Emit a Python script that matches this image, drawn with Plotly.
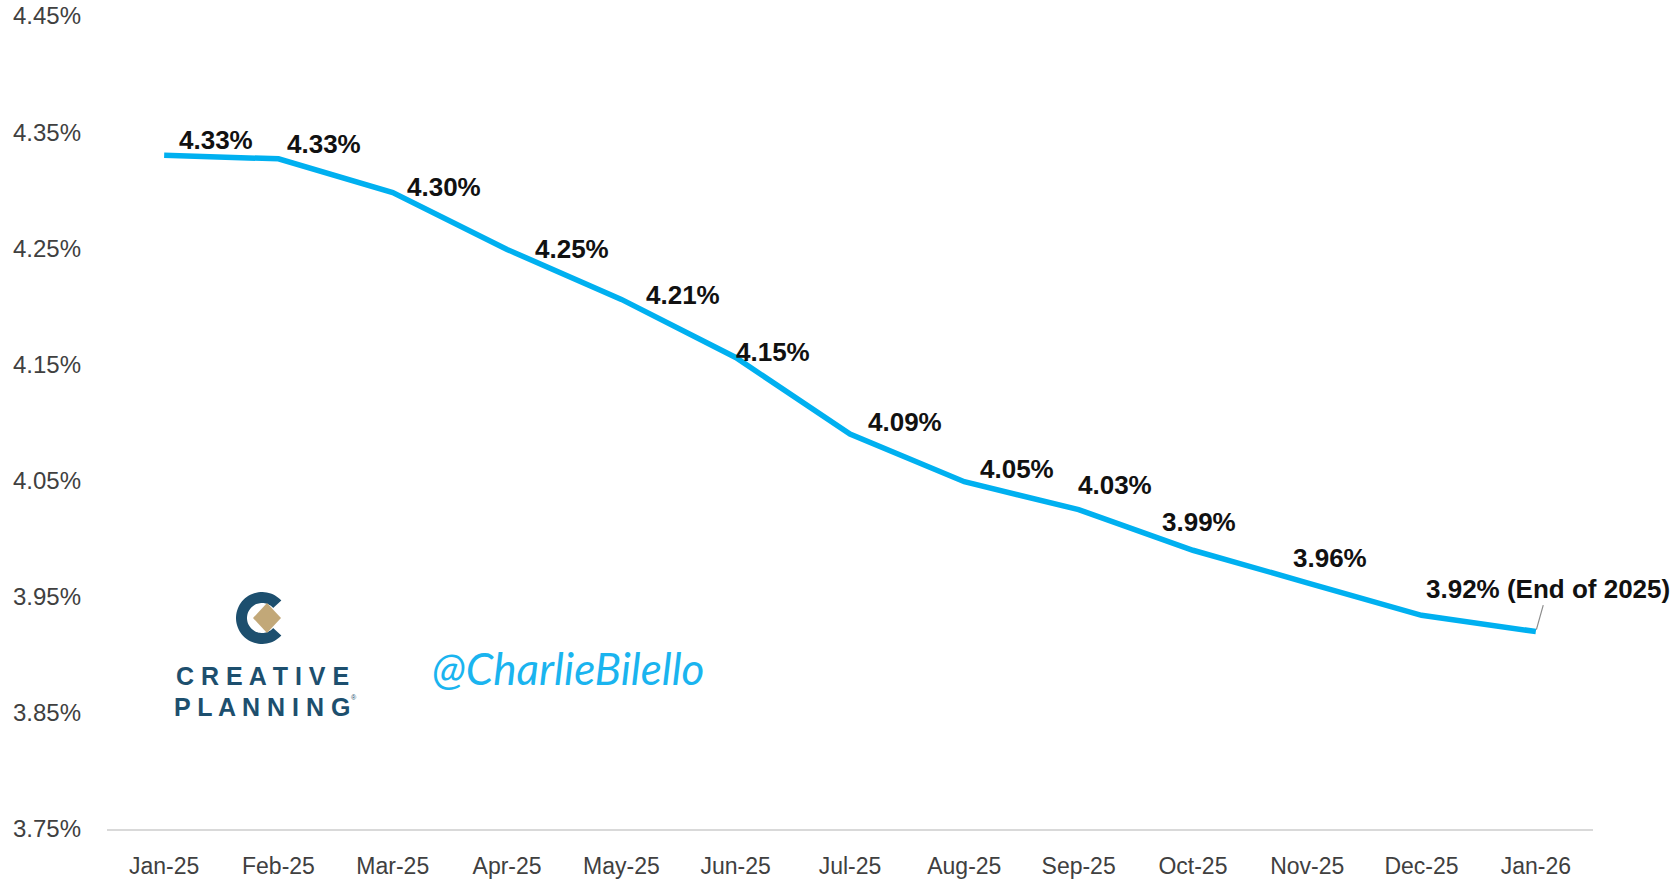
import numpy as np
import plotly.graph_objects as go

# ---------------- data ----------------
months = ["Jan-25", "Feb-25", "Mar-25", "Apr-25", "May-25", "Jun-25", "Jul-25",
          "Aug-25", "Sep-25", "Oct-25", "Nov-25", "Dec-25", "Jan-26"]
rates = [4.330, 4.327, 4.298, 4.249, 4.206, 4.156, 4.090,
         4.049, 4.025, 3.990, 3.962, 3.934, 3.920]
labels = ["4.33%", "4.33%", "4.30%", "4.25%", "4.21%", "4.15%", "4.09%",
          "4.05%", "4.03%", "3.99%", "3.96%", "", "3.92% (End of 2025)"]
y_ticks = [3.75, 3.85, 3.95, 4.05, 4.15, 4.25, 4.35, 4.45]

# label placement (pixel offsets of the label's left edge / centre from its point)
label_dx = [13, 7, 12, 26, 23, -2, 16, 14, -3, -33, -16, 0, 0]
label_dy = [15, 15, 6, 0, 4, 5, 12, 13, 25, 28, 25, 0, 0]

W, H = 1673, 880
L, T = 107, 16
R = W - 1593
B = H - 829
FONT = "Liberation Sans, Arial"


def pxx(x):
    # page pixel -> paper coordinate
    return (x - L) / (W - L - R)


def pxy(y):
    return (H - B - y) / (H - T - B)


fig = go.Figure()
fig.add_trace(go.Scatter(
    x=months, y=rates, mode="lines",
    line=dict(color="#00b0f0", width=5.5),
    hoverinfo="x+y", showlegend=False,
))

annotations = []
for i, (m, v, t) in enumerate(zip(months, rates, labels)):
    if not t:
        continue
    if i == len(months) - 1:
        annotations.append(dict(
            x=m, y=v, xref="x", yref="y", text="<b>%s</b>" % t, showarrow=True,
            arrowhead=0, arrowwidth=1.2, arrowcolor="#8c8c8c",
            ax=12, ay=-43, standoff=2,
            font=dict(family=FONT, size=26, color="#111111"),
        ))
    else:
        annotations.append(dict(
            x=m, y=v, xref="x", yref="y", text="<b>%s</b>" % t, showarrow=False,
            xanchor="left", yanchor="middle",
            xshift=label_dx[i], yshift=label_dy[i],
            font=dict(family=FONT, size=26, color="#111111"),
        ))

# watermark and logo texts
annotations.append(dict(
    x=pxx(568), y=pxy(668), xref="paper", yref="paper", text="<i>@CharlieBilello</i>",
    showarrow=False, xanchor="center", yanchor="middle",
    font=dict(family="Lato", size=44, color="#1ab4ef"),
))
logo_col = "#1d4f6e"
annotations.append(dict(
    x=pxx(262), y=pxy(676), xref="paper", yref="paper", text="<b>C R E A T I V E</b>",
    showarrow=False, xanchor="center", yanchor="middle",
    font=dict(family=FONT, size=25, color=logo_col),
))
annotations.append(dict(
    x=pxx(262), y=pxy(707), xref="paper", yref="paper", text="<b>P L A N N I N G</b>",
    showarrow=False, xanchor="center", yanchor="middle",
    font=dict(family=FONT, size=25, color=logo_col),
))
annotations.append(dict(
    x=pxx(354), y=pxy(697), xref="paper", yref="paper", text="®",
    showarrow=False, xanchor="center", yanchor="middle",
    font=dict(family=FONT, size=7, color=logo_col),
))

# logo "C" ring and diamond
cx, cy, ro, ri = 262, 618, 26, 15
ang = np.linspace(np.deg2rad(42), np.deg2rad(318), 60)
outer = [(cx + ro * np.cos(a), cy - ro * np.sin(a)) for a in ang]
inner = [(cx + ri * np.cos(a), cy - ri * np.sin(a)) for a in ang[::-1]]
pts = outer + inner
c_path = "M " + " L ".join("%.5f,%.5f" % (pxx(x), pxy(y)) for x, y in pts) + " Z"
dcx, dcy, dw, dh = 267, 618, 14, 15
d_pts = [(dcx, dcy - dh), (dcx + dw, dcy), (dcx, dcy + dh), (dcx - dw, dcy)]
d_path = "M " + " L ".join("%.5f,%.5f" % (pxx(x), pxy(y)) for x, y in d_pts) + " Z"
shapes = [
    dict(type="path", xref="paper", yref="paper", path=c_path,
         fillcolor=logo_col, line=dict(width=0)),
    dict(type="path", xref="paper", yref="paper", path=d_path,
         fillcolor="#c2a878", line=dict(width=0)),
]

fig.update_layout(
    width=W, height=H,
    margin=dict(l=L, r=R, t=T, b=B, autoexpand=False),
    paper_bgcolor="white", plot_bgcolor="white",
    annotations=annotations, shapes=shapes,
    xaxis=dict(
        type="category", range=[-0.5, len(months) - 0.5],
        automargin=False, ticklabeloverflow="allow",
        showgrid=False, zeroline=False,
        showline=True, linecolor="#d9d9d9", linewidth=2,
        ticks="", tickfont=dict(family=FONT, size=23, color="#404040"),
        ticklabelstandoff=15,
    ),
    yaxis=dict(
        range=[3.75, 4.45], tickvals=y_ticks,
        ticktext=["%.2f%%" % v for v in y_ticks],
        automargin=False, ticklabeloverflow="allow",
        showgrid=False, zeroline=False, showline=False,
        ticks="", tickfont=dict(family=FONT, size=24, color="#404040"),
        ticklabelstandoff=25,
    ),
)

fig.write_html(
    "out.html",
    config={"displayModeBar": False},
    post_script="document.body.style.margin='0px';document.body.style.overflow='hidden';",
)
